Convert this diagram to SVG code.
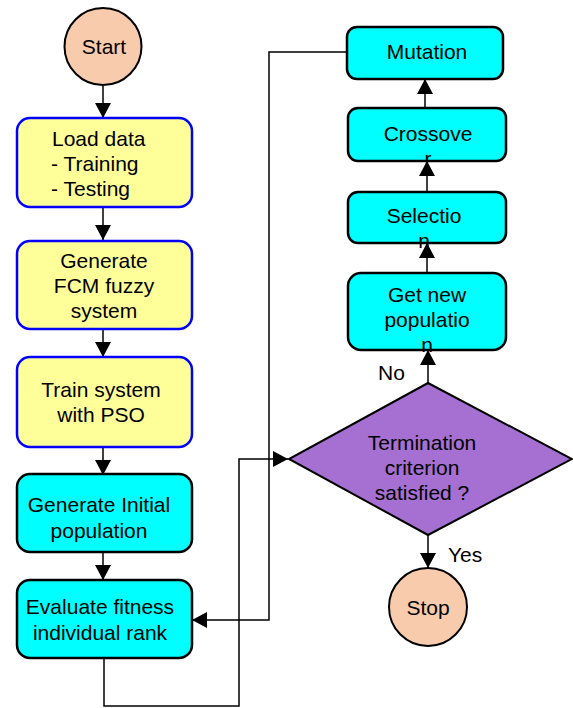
<svg xmlns="http://www.w3.org/2000/svg" width="573" height="708" viewBox="0 0 573 708">
<style>
text{font-family:"Liberation Sans",Arial,sans-serif;font-size:21px;fill:#000}
.c{text-anchor:middle}
.yel{fill:#ffff99;stroke:#0000ff;stroke-width:2.5}
.cy{fill:#00ffff;stroke:#000;stroke-width:2.5}
.term{fill:#f8cbad;stroke:#000;stroke-width:2}
.dia{fill:#a66fd2;stroke:#000;stroke-width:2}
.ln{fill:none;stroke:#000;stroke-width:1.5}
</style>
<defs>
<marker id="ah" markerUnits="userSpaceOnUse" markerWidth="16" markerHeight="16" refX="15" refY="8" orient="auto">
<path d="M0,0 L15,8 L0,16 z" fill="#000"/>
</marker>
</defs>
<rect width="573" height="708" fill="#fff"/>
<g id="connectors">
<line class="ln" x1="103" y1="85" x2="103" y2="118" marker-end="url(#ah)"/>
<line class="ln" x1="103" y1="207" x2="103" y2="240" marker-end="url(#ah)"/>
<line class="ln" x1="103" y1="329" x2="103" y2="357" marker-end="url(#ah)"/>
<line class="ln" x1="103" y1="447" x2="103" y2="475" marker-end="url(#ah)"/>
<line class="ln" x1="103" y1="552" x2="103" y2="580" marker-end="url(#ah)"/>
<polyline class="ln" points="104,658 104,706 239,706 239,459 288,459" marker-end="url(#ah)"/>
<polyline class="ln" points="348,52 269,52 269,620 192,620" marker-end="url(#ah)"/>
<line class="ln" x1="428" y1="383" x2="428" y2="350" marker-end="url(#ah)"/>
<line class="ln" x1="427" y1="273" x2="427" y2="243" marker-end="url(#ah)"/>
<line class="ln" x1="427" y1="192" x2="427" y2="161" marker-end="url(#ah)"/>
<line class="ln" x1="425" y1="108" x2="425" y2="79" marker-end="url(#ah)"/>
<line class="ln" x1="428" y1="535" x2="428" y2="568" marker-end="url(#ah)"/>
<text x="378" y="380">No</text>
<text x="448" y="562">Yes</text>
</g>
<g id="start">
<circle class="term" cx="103" cy="46.5" r="38.5"/>
<text class="c" x="104" y="54">Start</text>
</g>
<g id="load">
<rect class="yel" x="17" y="118" width="175" height="89" rx="13"/>
<text x="52" y="146">Load data</text>
<text x="51" y="171">- Training</text>
<text x="51" y="196">- Testing</text>
</g>
<g id="fcm">
<rect class="yel" x="17" y="241" width="175" height="88" rx="13"/>
<text class="c" x="104" y="268">Generate</text>
<text class="c" x="104" y="293">FCM fuzzy</text>
<text class="c" x="104" y="318">system</text>
</g>
<g id="pso">
<rect class="yel" x="17" y="357" width="175" height="90" rx="13"/>
<text class="c" x="101" y="397">Train system</text>
<text class="c" x="101" y="422">with PSO</text>
</g>
<g id="init">
<rect class="cy" x="17" y="474" width="175" height="78" rx="13"/>
<text class="c" x="99" y="512">Generate Initial</text>
<text class="c" x="99" y="538">population</text>
</g>
<g id="eval">
<rect class="cy" x="17" y="580" width="175" height="78" rx="13"/>
<text class="c" x="100" y="614">Evaluate fitness</text>
<text class="c" x="100" y="640">individual rank</text>
</g>
<g id="mutation">
<rect class="cy" x="347" y="27" width="156" height="52" rx="10"/>
<text class="c" x="427" y="59">Mutation</text>
</g>
<g id="crossover">
<rect class="cy" x="348" y="108" width="158" height="53" rx="10"/>
<text class="c" x="428" y="141">Crossove</text>
<text class="c" x="428" y="166">r</text>
</g>
<g id="selection">
<rect class="cy" x="348" y="192" width="158" height="51" rx="10"/>
<text class="c" x="424" y="223">Selectio</text>
<text class="c" x="424" y="248">n</text>
</g>
<g id="newpop">
<rect class="cy" x="348" y="273" width="158" height="77" rx="13"/>
<text class="c" x="427" y="302">Get new</text>
<text class="c" x="427" y="327">populatio</text>
<text class="c" x="427" y="352">n</text>
</g>
<g id="decision">
<polygon class="dia" points="428,383 572,459 428,535 289,459"/>
<text class="c" x="422" y="450">Termination</text>
<text class="c" x="422" y="475">criterion</text>
<text class="c" x="422" y="500">satisfied ?</text>
</g>
<g id="stop">
<circle class="term" cx="428" cy="607" r="39"/>
<text class="c" x="428" y="615">Stop</text>
</g>
</svg>
